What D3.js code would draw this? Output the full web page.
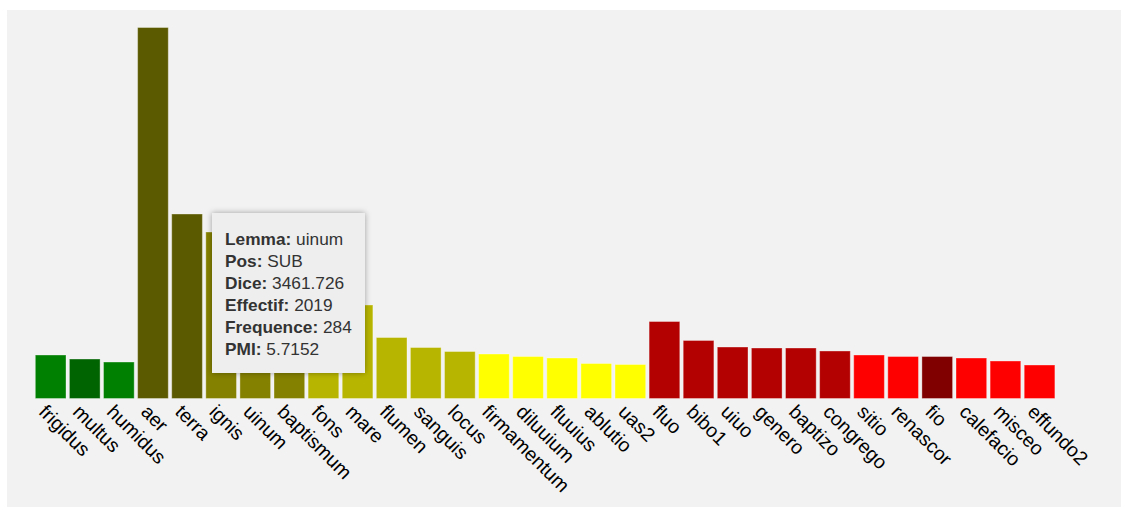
<!DOCTYPE html>
<html>
<head>
<meta charset="utf-8">
<script src="https://cdnjs.cloudflare.com/ajax/libs/d3/7.8.5/d3.min.js"></script>
<style>
  body { margin: 0; background: #fff; }
  #chart-area { position: relative; width: 1121px; height: 507px; }
  .tooltip {
    position: absolute;
    background: #eeeeee;
    color: #333;
    font-family: "Liberation Sans", Arial, sans-serif;
    font-size: 17.3px;
    line-height: 22px;
    padding: 15px 13px 13px 13px;
    box-shadow: 0 0 6px rgba(0,0,0,0.35);
    white-space: nowrap;
  }
  .tooltip b { color: #333; }
</style>
</head>
<body>
<div id="chart-area"></div>
<script>
// lemmas, in drawn order
let lemmas = ['frigidus', 'multus', 'humidus', 'aer', 'terra', 'ignis', 'uinum',
  'baptismum', 'fons', 'mare', 'flumen', 'sanguis', 'locus', 'firmamentum',
  'diluuium', 'fluuius', 'ablutio', 'uas2', 'fluo', 'bibo1', 'uiuo', 'genero',
  'baptizo', 'congrego', 'sitio', 'renascor', 'fio', 'calefacio', 'misceo', 'effundo2'];

// dice score per lemma
let dice = [1053, 956, 883, 8978, 4465, 4029, 3461.726,
  2977, 2493, 2263, 1476, 1234, 1137, 1077,
  1016, 980, 847, 823, 1863, 1404, 1246, 1222,
  1222, 1150, 1053, 1016, 1016, 980, 908, 811];

// bar colours per lemma
let colors = ['#008000', '#006400', '#008000', '#5c5a00', '#5c5a00', '#858100', '#858100',
  '#858100', '#b8b500', '#b8b500', '#b8b500', '#b8b500', '#b8b500', '#ffff00',
  '#ffff00', '#ffff00', '#ffff00', '#ffff00', '#b30000', '#b30000', '#b30000', '#b30000',
  '#b30000', '#b30000', '#ff0000', '#ff0000', '#800000', '#ff0000', '#ff0000', '#ff0000'];

// tooltip shown for the hovered bar
let tipLabels = ['Lemma', 'Pos', 'Dice', 'Effectif', 'Frequence', 'PMI'];
let tipValues = ['uinum', 'SUB', '3461.726', '2019', '284', '5.7152'];

let data = lemmas.map((d, i) => ({ lemma: d, dice: dice[i], color: colors[i] }));

//************* Canvas Set Up *************//

let W = 1121, H = 507;
let baseline = 398.5, yTop = 27.5;

let svg = d3.select('#chart-area').append('svg')
  .attr('width', W)
  .attr('height', H);

svg.append('rect')
  .attr('x', 7)
  .attr('y', 10)
  .attr('width', W - 7)
  .attr('height', H - 10)
  .attr('fill', '#f2f2f2');

let x = d3.scaleBand()
  .domain(lemmas)
  .range([31.9, 1058.3])
  .paddingInner(0.1)
  .paddingOuter(0.1);

let y = d3.scaleLinear()
  .domain([0, d3.max(dice)])
  .range([baseline, yTop]);

// bars
svg.selectAll('rect.bar')
  .data(data)
  .enter()
  .append('rect')
    .attr('class', 'bar')
    .attr('x', d => x(d.lemma))
    .attr('y', d => y(d.dice))
    .attr('width', x.bandwidth())
    .attr('height', d => baseline - y(d.dice))
    .attr('fill', d => d.color)
    .attr('stroke', '#ffffff')
    .attr('stroke-opacity', 0.35)
    .attr('stroke-width', 1);

// x axis, no line and no ticks, rotated labels
let xAxisCall = d3.axisBottom(x).tickSize(0).tickPadding(0);
let xAxis = svg.append('g')
  .attr('class', 'x-axis')
  .attr('transform', 'translate(0, ' + baseline + ')')
  .call(xAxisCall);
xAxis.select('.domain').remove();
xAxis.selectAll('text')
  .attr('font-family', '"Liberation Sans", Arial, sans-serif')
  .attr('font-size', '19.5px')
  .attr('fill', '#000')
  .attr('text-anchor', 'start')
  .attr('x', 0)
  .attr('y', 0)
  .attr('dy', null)
  .attr('transform', 'translate(-13, 14.5) rotate(45)');

// tooltip
let tip = d3.select('#chart-area').append('div')
  .attr('class', 'tooltip')
  .style('left', '212px')
  .style('top', '213px');

tipLabels.forEach((l, i) => {
  let line = tip.append('div');
  line.append('b').text(l + ':');
  line.append('span').text(' ' + tipValues[i]);
});
</script>
</body>
</html>
